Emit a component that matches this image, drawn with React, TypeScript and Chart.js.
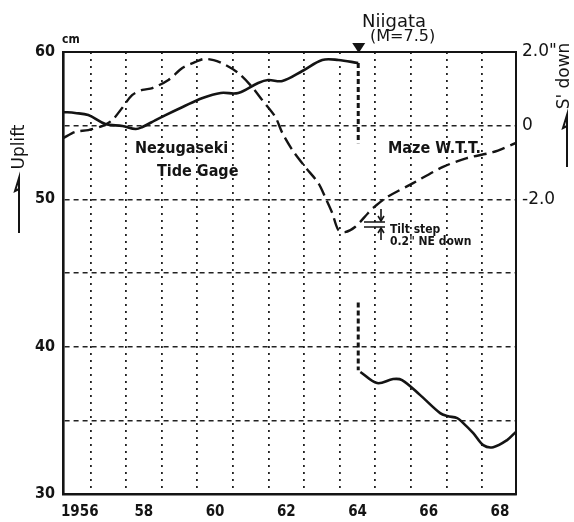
import React, { useEffect, useRef } from "react";
import { Chart, registerables } from "chart.js";

Chart.register(...registerables);

// ---- Data ----
// Nezugaseki tide gage (cm, left axis) before the Niigata earthquake
const tideYearsBefore = [1956.23, 1956.57, 1956.94, 1957.42, 1957.9, 1958.27, 1958.46, 1958.83, 1959.11, 1959.59, 1960.15, 1960.66, 1961.15, 1961.71, 1961.99, 1962.39, 1962.95, 1963.51, 1963.96, 1964.52];
const tideCmBefore = [55.93, 55.86, 55.72, 55.11, 54.98, 54.77, 54.91, 55.38, 55.72, 56.27, 56.88, 57.22, 57.22, 57.9, 58.1, 58.03, 58.71, 59.46, 59.46, 59.25];
// after the earthquake
const tideYearsAfter = [1964.58, 1965.05, 1965.5, 1965.75, 1966.26, 1966.82, 1967.02, 1967.3, 1967.44, 1967.75, 1968.03, 1968.31, 1968.7, 1968.94];
const tideCmAfter = [38.28, 37.53, 37.8, 37.73, 36.71, 35.49, 35.29, 35.15, 34.88, 34.13, 33.32, 33.18, 33.66, 34.2];
// co-seismic step (dashed vertical pieces)
const quakeYear = 1964.52;
const stepUpperCm = [59.25, 53.8];
const stepLowerCm = [43.0, 38.4];
// Maze water-tube tiltmeter (seconds of arc, right axis, S' down)
const tiltYears = [1956.23, 1956.57, 1956.94, 1957.33, 1957.61, 1957.89, 1958.17, 1958.46, 1958.74, 1959.19, 1959.59, 1959.95, 1960.18, 1960.46, 1960.79, 1961.15, 1961.54, 1961.82, 1962.19, 1962.39, 1962.67, 1963.03, 1963.4, 1963.59, 1963.79, 1963.96, 1964.15, 1964.43, 1964.8, 1964.93, 1965.33, 1966.06, 1966.9, 1967.57, 1968.3, 1968.95];
const tiltSec = [-0.34, -0.17, -0.12, -0.01, 0.15, 0.48, 0.83, 0.97, 1.02, 1.24, 1.57, 1.73, 1.81, 1.78, 1.65, 1.43, 1.05, 0.7, 0.24, -0.2, -0.66, -1.12, -1.56, -1.94, -2.37, -2.83, -2.89, -2.75, -2.37, -2.24, -1.94, -1.56, -1.12, -0.88, -0.72, -0.47];

// Axes
const xMin = 1956.23;
const xMax = 1968.95;
const gridYears = [1957, 1958, 1959, 1960, 1961, 1962, 1963, 1964, 1965, 1966, 1967, 1968];
const xLabelValues = [1956.7, 1958.5, 1960.5, 1962.5, 1964.5, 1966.5, 1968.5];
const xLabelTexts = ["1956", "58", "60", "62", "64", "66", "68"];
const leftTickLabels = [30, 40, 50, 60];
const rightTickValues = [2, 0, -2];
const rightTickTexts = ['2.0"', "0", "-2.0"];

const COND = "'DejaVu Sans Condensed', 'DejaVu Sans', sans-serif";
const SANS = "'DejaVu Sans', sans-serif";
const INK = "#141414";

const decor = {
  id: "decor",
  beforeDraw(chart: any) {
    const { ctx, width, height } = chart;
    ctx.save();
    ctx.fillStyle = "#ffffff";
    ctx.fillRect(0, 0, width, height);
    ctx.restore();
  },
  afterDraw(chart: any) {
    const { ctx, chartArea: a, scales } = chart;
    ctx.save();
    ctx.strokeStyle = INK;
    ctx.fillStyle = INK;
    // top frame line
    ctx.lineWidth = 2;
    ctx.beginPath();
    ctx.moveTo(a.left - 1, a.top);
    ctx.lineTo(a.right + 1, a.top);
    ctx.stroke();

    // earthquake marker triangle
    const qx = scales.x.getPixelForValue(quakeYear);
    ctx.beginPath();
    ctx.moveTo(qx - 6, a.top - 9);
    ctx.lineTo(qx + 7, a.top - 9);
    ctx.lineTo(qx + 0.5, a.top + 1);
    ctx.closePath();
    ctx.fill();

    ctx.textBaseline = "alphabetic";
    ctx.textAlign = "left";
    ctx.font = `normal 18px ${SANS}`;
    ctx.fillText("Niigata", 362, 27);
    ctx.font = `normal 16px ${SANS}`;
    ctx.fillText("(M=7.5)", 370, 41);

    ctx.font = `bold 16px ${COND}`;
    ctx.fillText("Nezugaseki", 135, 153);
    ctx.fillText("Tide Gage", 157, 176);
    ctx.fillText("Maze W.T.T.", 388, 153);

    ctx.font = `bold 12px ${COND}`;
    ctx.fillText("Tilt step", 390, 233);
    ctx.fillText('0.2" NE down', 390, 245);

    ctx.font = `bold 12px ${COND}`;
    ctx.fillText("cm", 62, 43);

    // tilt step symbol
    ctx.lineWidth = 1.6;
    ctx.beginPath();
    ctx.moveTo(364, 222); ctx.lineTo(385, 222);
    ctx.moveTo(364, 227); ctx.lineTo(385, 227);
    ctx.moveTo(381, 209); ctx.lineTo(381, 221);
    ctx.moveTo(381, 240); ctx.lineTo(381, 228);
    ctx.stroke();
    ctx.beginPath();
    ctx.moveTo(378, 216); ctx.lineTo(381, 221); ctx.lineTo(384, 216);
    ctx.moveTo(378, 233); ctx.lineTo(381, 228); ctx.lineTo(384, 233);
    ctx.stroke();

    // axis titles (rotated) with half-arrows
    ctx.font = `normal 17px ${SANS}`;
    ctx.textAlign = "center";
    ctx.textBaseline = "middle";
    ctx.save();
    ctx.translate(20, 147);
    ctx.rotate(-Math.PI / 2);
    ctx.fillText("Uplift", 0, 0);
    ctx.restore();
    ctx.save();
    ctx.translate(565, 76);
    ctx.rotate(-Math.PI / 2);
    ctx.fillText("S' down", 0, 0);
    ctx.restore();

    ctx.lineWidth = 2;
    ctx.beginPath();
    ctx.moveTo(19, 233); ctx.lineTo(19, 178); ctx.lineTo(15, 191); ctx.lineTo(19, 189);
    ctx.moveTo(567, 167); ctx.lineTo(567, 115); ctx.lineTo(563, 128); ctx.lineTo(567, 126);
    ctx.stroke();

    ctx.restore();
  },
};

export default function App() {
  const canvasRef = useRef<HTMLCanvasElement | null>(null);

  useEffect(() => {
    const canvas = canvasRef.current;
    if (!canvas) return;

    const tideBefore = tideYearsBefore.map((x, i) => ({ x, y: tideCmBefore[i] }));
    const tideAfter = tideYearsAfter.map((x, i) => ({ x, y: tideCmAfter[i] }));
    const step = [
      { x: quakeYear, y: stepUpperCm[0] },
      { x: quakeYear, y: stepUpperCm[1] },
      { x: quakeYear, y: null as any },
      { x: quakeYear, y: stepLowerCm[0] },
      { x: quakeYear, y: stepLowerCm[1] },
    ];
    const tilt = tiltYears.map((x, i) => ({ x, y: tiltSec[i] }));

    const chart = new Chart(canvas, {
      type: "line",
      data: {
        datasets: [
          {
            label: "Nezugaseki Tide Gage (before)",
            data: tideBefore,
            yAxisID: "y",
            borderColor: INK,
            borderWidth: 2.6,
            pointRadius: 0,
            tension: 0.35,
            fill: false,
          },
          {
            label: "Nezugaseki Tide Gage (after)",
            data: tideAfter,
            yAxisID: "y",
            borderColor: INK,
            borderWidth: 2.6,
            pointRadius: 0,
            tension: 0.35,
            fill: false,
          },
          {
            label: "Step",
            data: step,
            yAxisID: "y",
            borderColor: INK,
            borderWidth: 3,
            borderDash: [5, 3],
            pointRadius: 0,
            tension: 0,
            spanGaps: false,
            fill: false,
          },
          {
            label: "Maze W.T.T.",
            data: tilt,
            yAxisID: "y1",
            borderColor: INK,
            borderWidth: 2.4,
            borderDash: [13, 6],
            pointRadius: 0,
            tension: 0.3,
            fill: false,
          },
        ],
      },
      options: {
        animation: false,
        responsive: false,
        events: [],
        layout: { padding: { top: 52, left: 0, right: 0, bottom: 0 } },
        plugins: {
          legend: { display: false },
          tooltip: { enabled: false },
        },
        scales: {
          x: {
            type: "linear",
            position: "bottom",
            min: xMin,
            max: xMax,
            afterBuildTicks: (scale: any) => {
              scale.ticks = [...gridYears, ...xLabelValues]
                .sort((p, q) => p - q)
                .map((v) => ({ value: v }));
            },
            afterFit: (scale: any) => {
              scale.height = 28;
            },
            grid: {
              drawTicks: false,
              lineWidth: 1.8,
              color: (c: any) =>
                c.tick && Number.isInteger(c.tick.value) ? "#222" : "rgba(0,0,0,0)",
            },
            border: { display: true, color: INK, width: 2.6, dash: [2, 5] },
            ticks: {
              autoSkip: false,
              maxRotation: 0,
              minRotation: 0,
              padding: 9,
              color: INK,
              font: { family: COND, size: 15, weight: "bold" },
              callback: (v: any) => {
                const i = xLabelValues.indexOf(Number(v));
                return i >= 0 ? xLabelTexts[i] : "";
              },
            },
          },
          y: {
            type: "linear",
            position: "left",
            min: 30,
            max: 60,
            afterFit: (scale: any) => {
              scale.width = 63;
            },
            grid: {
              drawTicks: false,
              lineWidth: 1.4,
              color: (c: any) =>
                c.tick && (c.tick.value === 30 || c.tick.value === 60) ? "rgba(0,0,0,0)" : "#222",
            },
            border: { display: true, color: INK, width: 2.6, dash: [5, 4] },
            ticks: {
              stepSize: 5,
              padding: 8,
              color: INK,
              font: { family: COND, size: 16, weight: "bold" },
              callback: (v: any) => (leftTickLabels.includes(Number(v)) ? String(v) : ""),
            },
          },
          y1: {
            type: "linear",
            position: "right",
            min: -10,
            max: 2,
            afterFit: (scale: any) => {
              scale.width = 58;
            },
            grid: { display: false, drawTicks: false },
            border: { display: true, color: INK, width: 2 },
            ticks: {
              stepSize: 2,
              padding: 6,
              color: INK,
              font: { family: SANS, size: 17, weight: "normal" },
              callback: (v: any) => {
                const i = rightTickValues.indexOf(Number(v));
                return i >= 0 ? rightTickTexts[i] : "";
              },
            },
          },
        },
      },
      plugins: [decor],
    } as any);

    return () => chart.destroy();
  }, []);

  return (
    <canvas
      ref={canvasRef}
      width={574}
      height={522}
      style={{ position: "absolute", left: 0, top: 0, display: "block", width: 574, height: 522 }}
    />
  );
}
